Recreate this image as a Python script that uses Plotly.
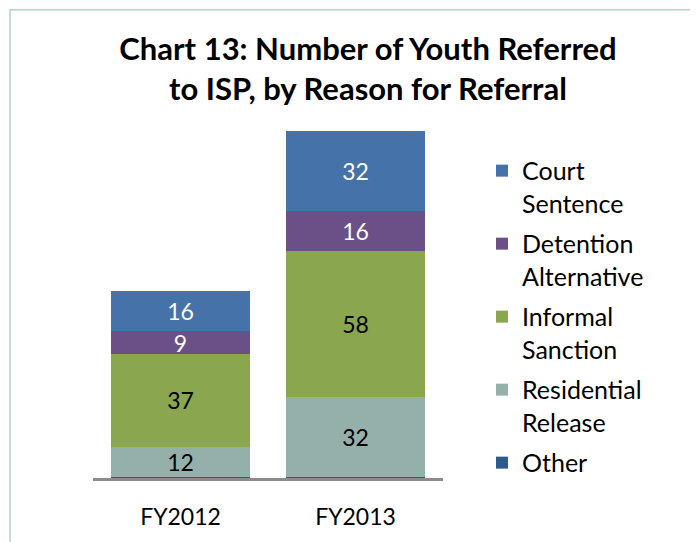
import plotly.graph_objects as go

categories = ["FY2012", "FY2013"]
other = [0.4, 0.4]
residential = [12, 32]
informal = [37, 58]
detention = [9, 16]
court = [16, 32]

series = [
    ("Other", other, "#2E5B8E", None),
    ("Residential<br>Release", residential, "#95AFAA", "black"),
    ("Informal<br>Sanction", informal, "#8AA64E", "black"),
    ("Detention<br>Alternative", detention, "#6A5086", "white"),
    ("Court<br>Sentence", court, "#4572A8", "white"),
]

FONT = "Lato"
fig = go.Figure()
for i, (name, vals, color, tcolor) in enumerate(series):
    fig.add_trace(go.Bar(
        x=categories, y=vals, name=name,
        legendgroup="g%d" % i,
        legendrank=100 - i,
        marker=dict(color=color, line=dict(width=0)),
        text=[str(v) for v in vals] if tcolor else None,
        textposition="inside" if tcolor else "none",
        insidetextanchor="middle",
        textangle=0,
        constraintext="none",
        textfont=dict(family=FONT, size=23, color=tcolor or "black"),
        hoverinfo="skip",
    ))

# page body has an ~8px offset; figure coords = reference coords - 8
W, H = 690, 534
L, T = 85, 122
R, B = W - 435, H - 472
pw, ph = W - L - R, H - T - B

fig.update_layout(
    width=W, height=H,
    barmode="stack", bargap=0.21,
    margin=dict(l=L, r=R, t=T, b=B),
    paper_bgcolor="white", plot_bgcolor="white",
    font=dict(family=FONT, size=23, color="black"),
    title=dict(
        text="<b>Chart 13: Number of Youth Referred<br>to ISP, by Reason for Referral</b>",
        x=360 / W, xanchor="center", y=1 - 52 / H, yanchor="top",
        font=dict(family=FONT, size=31, color="black"),
    ),
    xaxis=dict(showline=True, linecolor="#8C8C8C", linewidth=3, ticks="",
               ticklabelstandoff=16,
               tickfont=dict(family=FONT, size=23, color="black"),
               showgrid=False, zeroline=False),
    yaxis=dict(visible=False, range=[0, 138.6], showgrid=False, zeroline=False),
    legend=dict(x=(474 - L) / pw, xanchor="left", y=(472 - 140) / ph, yanchor="top",
                traceorder="grouped", font=dict(family=FONT, size=25),
                valign="top",
                itemsizing="constant", tracegroupgap=5, bgcolor="rgba(0,0,0,0)"),
    showlegend=True,
)

# outer chart border (partially clipped like the reference)
fig.add_shape(type="rect", xref="paper", yref="paper",
              x0=(2 - L) / pw, x1=(720 - L) / pw,
              y0=(472 - 560) / ph, y1=(472 - 1) / ph,
              line=dict(color="#BCD0CA", width=1.5), fillcolor="rgba(0,0,0,0)", layer="below")

fig.write_html("out.html")
